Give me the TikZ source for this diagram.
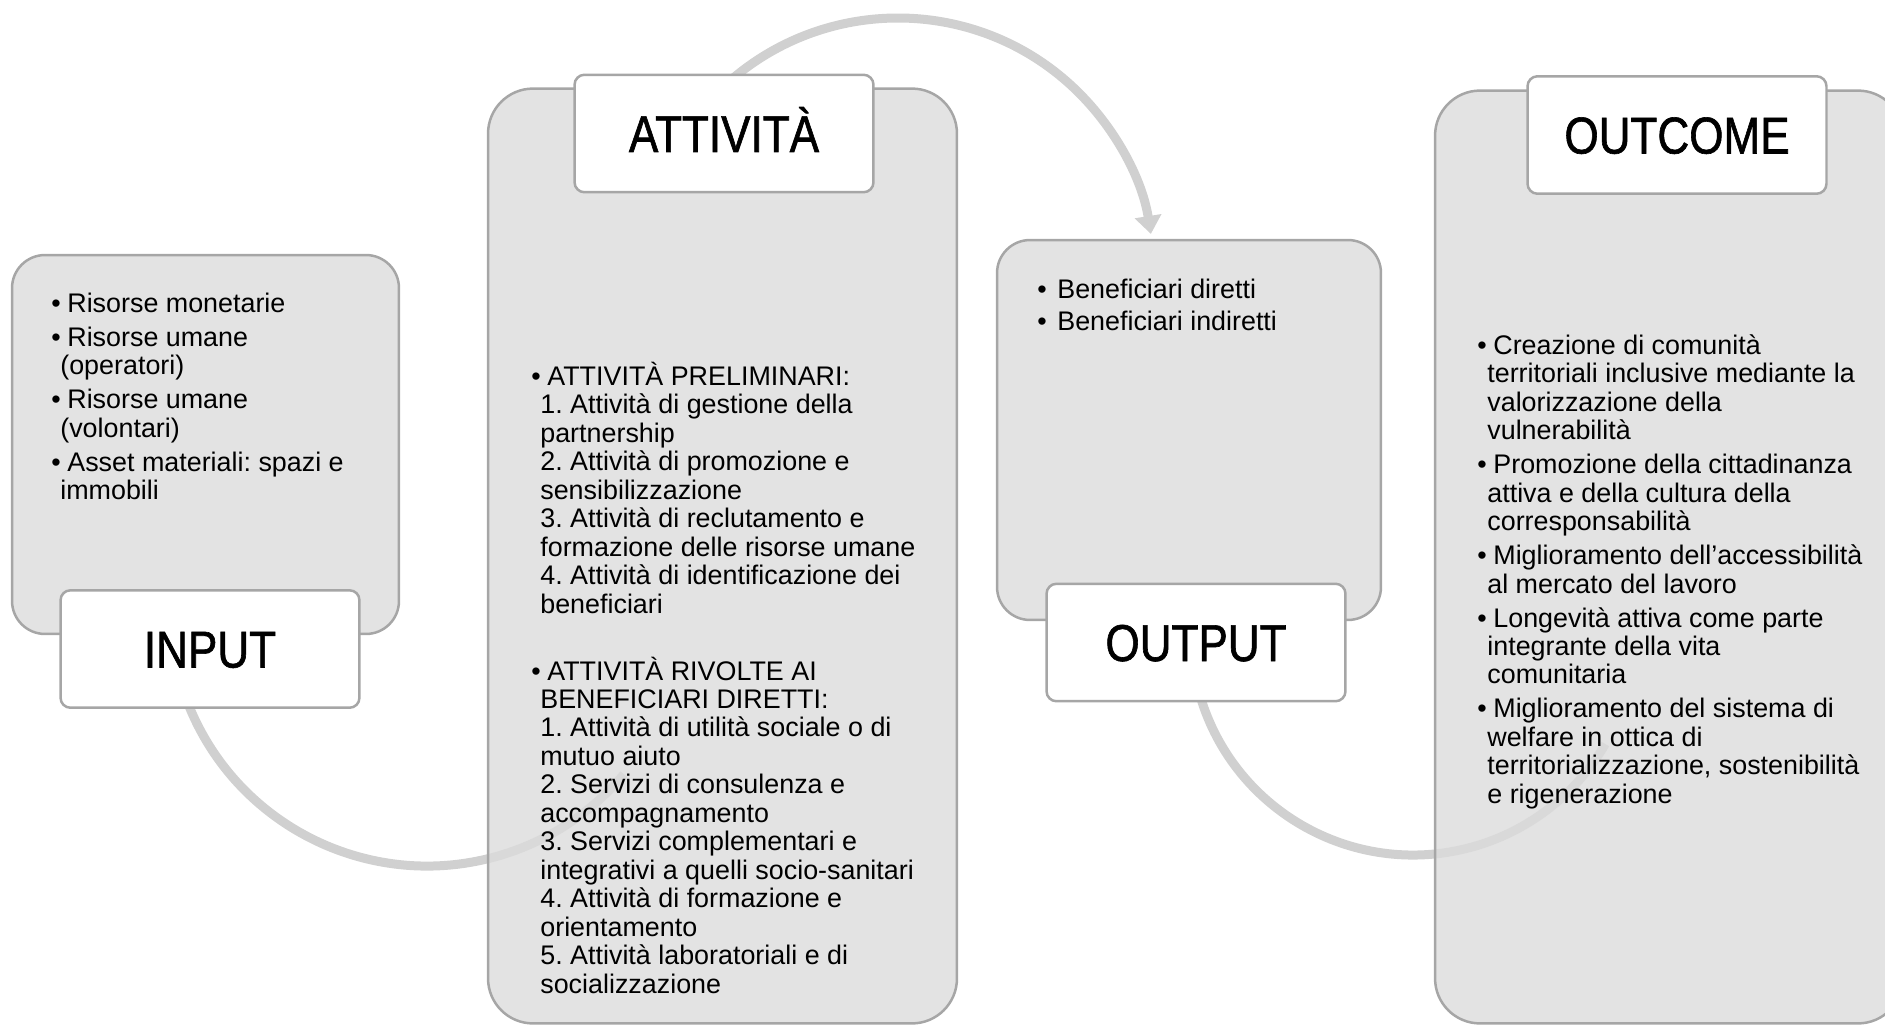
\documentclass[tikz,border=0pt]{standalone}
\usepackage{fontspec}
\setmainfont{Liberation Sans}
\newfontfamily\headfont[FakeStretch=0.85,FakeBold=1.2]{Liberation Sans}
\usetikzlibrary{arrows.meta}
\definecolor{panelfill}{RGB}{220,220,220}
\definecolor{panelline}{RGB}{166,166,166}
\definecolor{flowgray}{RGB}{208,208,208}
\newcommand\bodyfont{\fontsize{15.3pt}{16.2pt}\selectfont\frenchspacing}
\newcommand\bul[1][0.32cm]{\makebox[#1][l]{\textbullet}}
\newcommand\contl[1][0.18cm]{\hspace*{#1}}
\newcommand\topstrut{\rule{0pt}{0.6cm}}

\begin{document}
\begin{tikzpicture}[
    x=0.02cm,y=-0.02cm,
    flow/.style={draw=flowgray,line width=0.18cm},
    panel/.style={draw=panelline,line width=0.05cm,fill=panelfill,
      fill opacity=0.8,rounded corners=0.9cm,inner sep=0pt},
    head/.style={draw=panelline,line width=0.05cm,fill=white,
      rounded corners=0.2cm,minimum width=5.98cm,minimum height=2.35cm,
      font=\headfont\fontsize{29.5pt}{32pt}\selectfont,
      text height=0.74cm,text depth=0cm},
    txt/.style={anchor=north west,inner sep=0pt,align=left,font=\bodyfont}
  ]
    \useasboundingbox (0,0) rectangle (1885,1024);

    % arcs behind the panels
    \coordinate (c1) at (427,609);
    \coordinate (c2) at (898,274);
    \coordinate (c3) at (1413,633);
    \draw[flow] ([shift={(160:257)}]c1) arc[start angle=160,end angle=40,radius=257];
    \draw[flow,-{Triangle[width=0.52cm,length=0.36cm]}]
      ([shift={(-135:256)}]c2) arc[start angle=-135,end angle=-9,radius=256];
    \draw[flow] ([shift={(165:222)}]c3) arc[start angle=165,end angle=30,radius=222];

    % panels
    \node[panel,minimum width=7.74cm,minimum height=7.58cm,rounded corners=0.66cm]
      (inbox) at (205.5,444.5) {};
    \node[panel,minimum width=9.38cm,minimum height=18.7cm] (actbox) at (722.5,556) {};
    \node[panel,minimum width=7.68cm,minimum height=7.6cm,rounded corners=0.66cm]
      (outbox) at (1189,430) {};
    \node[panel,minimum width=9.36cm,minimum height=18.66cm] (ocbox) at (1669,557) {};

    % headers
    \node[head] (inhead) at (210,649) {INPUT};
    \node[head] (acthead) at (724,133.5) {ATTIVITÀ};
    \node[head] (outhead) at (1196,642.5) {OUTPUT};
    \node[head] (ochead) at (1677,135) {OUTCOME};

    % contents
    \node[txt] (intxt) at (51,282) {\topstrut\bul Risorse monetarie\\[0.11cm]
      \bul Risorse umane\\
      \contl(operatori)\\[0.11cm]
      \bul Risorse umane\\
      \contl(volontari)\\[0.11cm]
      \bul Asset materiali: spazi e\\
      \contl immobili};

    \node[txt] (acttxt) at (531,355) {\topstrut\bul ATTIVITÀ PRELIMINARI:\\
      \contl 1. Attività di gestione della\\
      \contl partnership\\
      \contl 2. Attività di promozione e\\
      \contl sensibilizzazione\\
      \contl 3. Attività di reclutamento e\\
      \contl formazione delle risorse umane\\
      \contl 4. Attività di identificazione dei\\
      \contl beneficiari\\[0.77cm]
      \bul ATTIVITÀ RIVOLTE AI\\
      \contl BENEFICIARI DIRETTI:\\
      \contl 1. Attività di utilità sociale o di\\
      \contl mutuo aiuto\\
      \contl 2. Servizi di consulenza e\\
      \contl accompagnamento\\
      \contl 3. Servizi complementari e\\
      \contl integrativi a quelli socio-sanitari\\
      \contl 4. Attività di formazione e\\
      \contl orientamento\\
      \contl 5. Attività laboratoriali e di\\
      \contl socializzazione};

    \node[txt] (outtxt) at (1037,268) {\topstrut\bul[0.4cm]Beneficiari diretti\\[0.07cm]
      \bul[0.4cm]Beneficiari indiretti};

    \node[txt] (octxt) at (1477,324) {\topstrut\bul Creazione di comunità\\
      \contl[0.2cm]territoriali inclusive mediante la\\
      \contl[0.2cm]valorizzazione della\\
      \contl[0.2cm]vulnerabilità\\[0.11cm]
      \bul Promozione della cittadinanza\\
      \contl[0.2cm]attiva e della cultura della\\
      \contl[0.2cm]corresponsabilità\\[0.11cm]
      \bul Miglioramento dell’accessibilità\\
      \contl[0.2cm]al mercato del lavoro\\[0.11cm]
      \bul Longevità attiva come parte\\
      \contl[0.2cm]integrante della vita\\
      \contl[0.2cm]comunitaria\\[0.11cm]
      \bul Miglioramento del sistema di\\
      \contl[0.2cm]welfare in ottica di\\
      \contl[0.2cm]territorializzazione, sostenibilità\\
      \contl[0.2cm]e rigenerazione};
  \end{tikzpicture}
\end{document}
